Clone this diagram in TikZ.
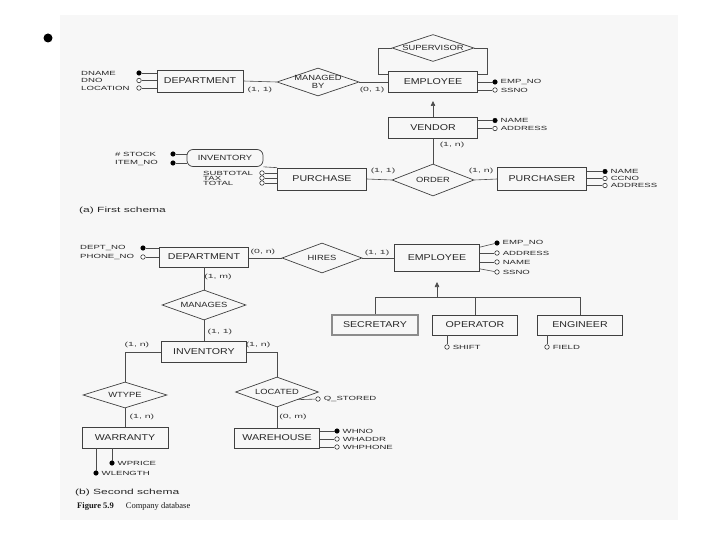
\documentclass[tikz,border=0pt]{standalone}
\usepackage{fontspec}
\setmainfont{Liberation Serif}
\usetikzlibrary{shapes.geometric,arrows.meta,calc}
\newfontfamily\sfx[FakeStretch=1.25]{Liberation Sans}
\newfontfamily\sfa[FakeStretch=1.6]{Liberation Sans}
\newfontfamily\sfk[FakeStretch=1.75]{Liberation Sans}
\newfontfamily\sfc[FakeStretch=1.6]{Liberation Sans}
\newcommand\entf{\sfx\fontsize{8.5}{9}\selectfont}
\newcommand\relf{\sfx\fontsize{7.5}{8}\selectfont}
\newcommand\attf{\sfa\fontsize{6}{6.5}\selectfont}
\newcommand\cardf{\sfk\fontsize{6}{6.5}\selectfont}
\newcommand\capf{\sfc\fontsize{7.5}{8}\selectfont}
\tikzset{
  ent/.style={draw=black!75, line width=0.7pt, rectangle, inner sep=0pt, font=\entf, text=black!85},
  rel/.style={draw=black!75, line width=0.7pt, diamond, inner sep=0pt},
  relt/.style={font=\relf, align=center, text=black!85, inner sep=0pt},
  keyatt/.style={circle, fill=black, draw=black, minimum size=4.5pt, inner sep=0pt, line width=0.5pt},
  att/.style={circle, fill=white, draw=black!80, minimum size=4.5pt, inner sep=0pt, line width=0.6pt},
  attxt/.style={font=\attf, text=black!85, inner sep=0pt, anchor=west},
  attl/.style={font=\attf, text=black!85, inner sep=0pt, xshift=3pt},
  card/.style={font=\cardf, text=black!80, inner sep=0pt},
  conn/.style={draw=black!70, line width=0.6pt},
  isatip/.style={-{Triangle[length=5pt,width=4.5pt]}},
}
\begin{document}
\begin{tikzpicture}[x=1pt,y=-1pt]
\useasboundingbox (0,0) rectangle (720,540);
\fill[gray!6] (60,15) rectangle (678,520);
\fill[black] (48,38) circle[radius=4.5pt];

% ---------------- (a) First schema ----------------
\node[ent, minimum width=86pt, minimum height=22pt] (dept1) at (200,81) {DEPARTMENT};
\node[keyatt] (dname) at (139,73) {};
\node[att] (dno) at (139,80.5) {};
\node[att] (dloc) at (139,88) {};
\node[attxt] (tdname) at (81,73) {DNAME};
\node[attxt] (tdno) at (81,80.5) {DNO};
\node[attxt] (tdloc) at (81,88) {LOCATION};
\draw[conn] (dname) -- (dname -| dept1.west);
\draw[conn] (dno) -- (dno -| dept1.west);
\draw[conn] (dloc) -- (dloc -| dept1.west);

\node[rel, minimum width=82pt, minimum height=28pt, label={[relt]center:MANAGED\\BY}] (mb) at (318,82) {};
\node[ent, minimum width=89pt, minimum height=21pt] (emp1) at (433,82) {EMPLOYEE};
\draw[conn] (dept1.east) -- (mb.west);
\draw[conn] (mb.east) -- (emp1.west);
\node[card] (c1) at (260,90) {(1, 1)};
\node[card] (c2) at (372,90) {(0, 1)};

\node[rel, minimum width=82pt, minimum height=27pt, label={[relt]center:SUPERVISOR}] (sup) at (433,48) {};
\draw[conn] (sup.west) -| ([xshift=-10pt,yshift=-3pt]emp1.north west) -- ([yshift=-3pt]emp1.north west);
\draw[conn] (sup.east) -| ([xshift=9pt,yshift=-3pt]emp1.north east) -- ([yshift=-3pt]emp1.north east);

\node[keyatt, label={[attl]right:EMP\_NO}] (e1no) at (495,82) {};
\node[att, label={[attl]right:SSNO}] (e1ss) at (495,90) {};
\draw[conn] (e1no -| emp1.east) -- (e1no);
\draw[conn] (e1ss -| emp1.east) -- (e1ss);

\node[ent, minimum width=89pt, minimum height=21pt] (vendor) at (433,128) {VENDOR};
\coordinate (isa1) at (433,101);
\draw[conn, isatip] (vendor.north) -- (isa1);
\node[keyatt, label={[attl]right:NAME}] (vname) at (495,120.5) {};
\node[att, label={[attl]right:ADDRESS}] (vaddr) at (495,128.5) {};
\draw[conn] (vname -| vendor.east) -- (vname);
\draw[conn] (vaddr -| vendor.east) -- (vaddr);

\node[rel, minimum width=82pt, minimum height=32pt, label={[relt]center:ORDER}] (order) at (433,180) {};
\draw[conn] (vendor.south) -- (order.north);
\node[card] (c3) at (452,145) {(1, n)};

\node[ent, minimum width=89pt, minimum height=22pt] (pur) at (322,179) {PURCHASE};
\node[ent, minimum width=89pt, minimum height=23pt] (purch) at (542,179) {PURCHASER};
\draw[conn] (pur.east) -- (order.west);
\draw[conn] (order.east) -- (purch.west);
\node[card] (c4) at (383,171) {(1, 1)};
\node[card] (c5) at (481,171) {(1, n)};

\node[keyatt, label={[attl]right:NAME}] (pname) at (605,171.5) {};
\node[att, label={[attl]right:CCNO}] (pccno) at (605,178.5) {};
\node[att, label={[attl]right:ADDRESS}] (paddr) at (605,185.5) {};
\draw[conn] (pname -| purch.east) -- (pname);
\draw[conn] (pccno -| purch.east) -- (pccno);
\draw[conn] (paddr -| purch.east) -- (paddr);

\node[ent, rounded corners=6pt, minimum width=76pt, minimum height=17pt, font=\relf] (inv1) at (225,158) {INVENTORY};
\draw[conn] (inv1.south east) -- (pur.north west);
\node[keyatt] (stock) at (173,154) {};
\node[keyatt] (itemno) at (173,163) {};
\node[attxt] (tstock) at (115,154) {\# STOCK};
\node[attxt] (titemno) at (115,163) {ITEM\_NO};
\draw[conn] (stock) -- (stock -| inv1.west);
\draw[conn] (itemno) -- (itemno -| inv1.west);

\node[att] (subt) at (262,173) {};
\node[att] (tax) at (262,178) {};
\node[att] (tot) at (262,183) {};
\node[attxt] (tsubt) at (203,173) {SUBTOTAL};
\node[attxt] (ttax) at (203,178) {TAX};
\node[attxt] (ttot) at (203,183) {TOTAL};
\draw[conn] (subt) -- (subt -| pur.west);
\draw[conn] (tax) -- (tax -| pur.west);
\draw[conn] (tot) -- (tot -| pur.west);

\node[font=\capf, text=black!85, anchor=west, inner sep=0pt] (capa) at (79,211) {(a) First schema};

% ---------------- (b) Second schema ----------------
\node[ent, minimum width=89pt, minimum height=20pt] (dept2) at (204,257) {DEPARTMENT};
\node[keyatt] (deptno) at (143,248) {};
\node[att] (phone) at (143,257) {};
\node[attxt] (tdeptno) at (80,248) {DEPT\_NO};
\node[attxt] (tphone) at (80,257) {PHONE\_NO};
\draw[conn] (deptno) -- (deptno -| dept2.west);
\draw[conn] (phone) -- (phone -| dept2.west);

\node[rel, minimum width=80pt, minimum height=30pt, label={[relt]center:HIRES}] (hires) at (322,258) {};
\node[ent, minimum width=85pt, minimum height=27pt] (emp2) at (437,258) {EMPLOYEE};
\draw[conn] (dept2.east |- hires.west) -- (hires.west);
\draw[conn] (hires.east) -- (emp2.west |- hires.east);
\node[card] (c6) at (263,252) {(0, n)};
\node[card] (c7) at (377,253) {(1, 1)};

\node[keyatt, label={[attl]right:EMP\_NO}] (e2no) at (497,243) {};
\node[att, label={[attl]right:ADDRESS}] (e2ad) at (497,253) {};
\node[att, label={[attl]right:NAME}] (e2nm) at (497,262) {};
\node[att, label={[attl]right:SSNO}] (e2ss) at (497,272) {};
\draw[conn] ([yshift=-3pt]emp2.north east) -- (e2no);
\draw[conn] (e2ad -| emp2.east) -- (e2ad);
\draw[conn] (e2nm -| emp2.east) -- (e2nm);
\draw[conn] ([yshift=3pt]emp2.south east) -- (e2ss);

\coordinate (isa2) at (437,282);
\coordinate (bar) at (437,297);
\node[ent, draw=black!45, line width=1.2pt, minimum width=86pt, minimum height=20pt] (sec) at (375,325) {SECRETARY};
\node[ent, minimum width=85pt, minimum height=20pt] (op) at (475,325) {OPERATOR};
\node[ent, minimum width=85pt, minimum height=20pt] (eng) at (580,325) {ENGINEER};
\draw[conn, isatip] (bar) -- (isa2);
\draw[conn] (sec.north) -- (sec.north |- bar) -- (eng.north |- bar) -- (eng.north);
\draw[conn] (op.north) -- (op.north |- bar);
\node[att, label={[attl]right:SHIFT}] (shift) at (447,347) {};
\node[att, label={[attl]right:FIELD}] (field) at (547,347) {};
\draw[conn] (shift |- op.south) -- (shift);
\draw[conn] (field |- eng.south) -- (field);

\node[rel, minimum width=84pt, minimum height=30pt, label={[relt]center:MANAGES}] (man) at (204,305) {};
\draw[conn] (dept2.south) -- (man.north);
\node[card] (c8) at (218,277) {(1, m)};
\node[ent, minimum width=85pt, minimum height=21pt] (inv2) at (204,352) {INVENTORY};
\draw[conn] (man.south) -- (inv2.north);
\node[card] (c9) at (220,332) {(1, 1)};

\node[rel, minimum width=84pt, minimum height=26pt, label={[relt]center:WTYPE}] (wtype) at (125,395) {};
\node[rel, minimum width=83pt, minimum height=30pt, label={[relt]center:LOCATED}] (loc) at (277,392) {};
\draw[conn] (inv2.west) -| (wtype.north);
\draw[conn] (inv2.east) -| (loc.north);
\node[card] (c10) at (137,345) {(1, n)};
\node[card] (c11) at (258,345) {(1, n)};

\node[ent, minimum width=86pt, minimum height=21pt] (war) at (125,437.5) {WARRANTY};
\draw[conn] (wtype.south) -- (war.north);
\node[card] (c12) at (142,417) {(1, n)};
\node[keyatt, label={[attl]right:WPRICE}] (wprice) at (112,463) {};
\node[keyatt, label={[attl]right:WLENGTH}] (wlen) at (96,473) {};
\draw[conn] (wprice |- war.south) -- (wprice);
\draw[conn] (wlen |- war.south) -- (wlen);

\node[att, label={[attl]right:Q\_STORED}] (qst) at (318,399) {};
\draw[conn] (loc.-20) -- (qst);
\node[ent, minimum width=85pt, minimum height=20pt] (wh) at (277,438) {WAREHOUSE};
\draw[conn] (loc.south) -- (wh.north);
\node[card] (c13) at (293,417) {(0, m)};
\node[keyatt, label={[attl]right:WHNO}] (whno) at (337,431) {};
\node[att, label={[attl]right:WHADDR}] (whad) at (337,439) {};
\node[att, label={[attl]right:WHPHONE}] (whph) at (337,447) {};
\draw[conn] (whno -| wh.east) -- (whno);
\draw[conn] (whad -| wh.east) -- (whad);
\draw[conn] (whph -| wh.east) -- (whph);

\node[font=\capf, text=black!85, anchor=west, inner sep=0pt] (capb) at (75,493) {(b) Second schema};
\node[font=\fontsize{8.5}{9}\selectfont, text=black!90, anchor=west, inner sep=0pt] (figcap) at (77,506) {\textbf{Figure 5.9}\hspace{12pt}Company database};
\end{tikzpicture}
\end{document}
